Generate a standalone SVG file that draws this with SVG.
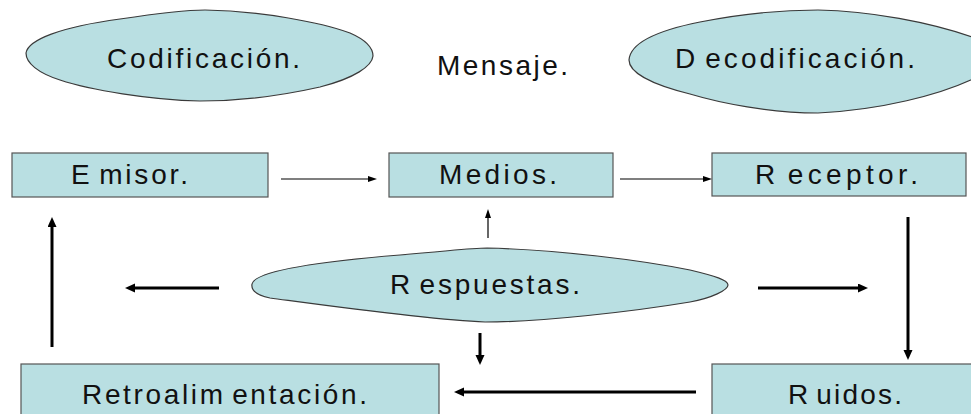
<svg xmlns="http://www.w3.org/2000/svg" width="971" height="414" viewBox="0 0 971 414">
<defs>
<style>
.shape{fill:#B9DFE2;stroke:#3a3a3a;stroke-width:1.2;stroke-linejoin:round}
.box{fill:#B9DFE2;stroke:#555;stroke-width:1.2}
.lbl{font-family:"Liberation Sans",Arial,sans-serif;font-size:28px;fill:#111;word-spacing:-4px}
.thin{stroke:#000;stroke-width:1.2;fill:none}
.thick{stroke:#000;stroke-width:3;fill:none}
</style>
<marker id="hThin" markerUnits="userSpaceOnUse" markerWidth="10" markerHeight="7" refX="1" refY="3" orient="auto">
<path d="M0,0 L9,3 L0,6 z" fill="#000"/>
</marker>
<marker id="hThick" markerUnits="userSpaceOnUse" markerWidth="11" markerHeight="10" refX="1" refY="4.5" orient="auto">
<path d="M0,0 L10,4.5 L0,9 z" fill="#000"/>
</marker>
</defs>
<rect width="971" height="414" fill="#fff"/>

<g id="codificacion">
<path class="shape" d="M26,53 C28,40 60,27 120,19 C160,13 185,10 205,10 C260,11 320,22 350,33 C366,40 373,48 373,56 C372,66 355,78 320,87 C280,96 235,101 200,101 C150,100 90,90 60,80 C38,73 26,63 26,53 Z"/>
<text class="lbl" x="107" y="68" textLength="193" lengthAdjust="spacing">Codificación.</text>
</g>

<g id="mensaje">
<text class="lbl" x="437" y="75" textLength="131" lengthAdjust="spacing">Mensaje.</text>
</g>

<g id="decodificacion">
<path class="shape" d="M629,60 C630,45 650,32 700,22 C740,14 780,10 818,10 C870,11 930,22 975,38 L975,78 C940,95 880,110 818,113 C770,113 720,103 690,94 C650,84 629,72 629,60 Z"/>
<text class="lbl" x="675" y="68" textLength="240" lengthAdjust="spacing">D ecodificación.</text>
</g>

<g id="emisor">
<rect class="box" x="12" y="153" width="256" height="44"/>
<text class="lbl" x="71" y="184" textLength="117" lengthAdjust="spacing">E misor.</text>
</g>

<g id="medios">
<rect class="box" x="389" y="153" width="224" height="44"/>
<text class="lbl" x="439" y="184" textLength="118" lengthAdjust="spacing">Medios.</text>
</g>

<g id="receptor">
<rect class="box" x="712" y="153" width="254" height="43"/>
<text class="lbl" x="755" y="184" textLength="163" lengthAdjust="spacing">R eceptor.</text>
</g>

<g id="respuestas">
<path class="shape" d="M252,284 C254,274 290,264 400,255 C450,251 470,248 487,248 C560,250 640,260 690,270 C715,276 728,280 728,285 C728,290 712,298 690,302 C630,312 540,322 485,322 C430,320 330,306 270,298 C256,295 251,290 252,284 Z"/>
<text class="lbl" x="390" y="294" textLength="190" lengthAdjust="spacing">R espuestas.</text>
</g>

<g id="retroalimentacion">
<rect class="box" x="21" y="364" width="418" height="60"/>
<text class="lbl" x="82" y="404" textLength="285" lengthAdjust="spacing">Retroalim entación.</text>
</g>

<g id="ruidos">
<rect class="box" x="712" y="364" width="260" height="60"/>
<text class="lbl" x="788" y="404" textLength="114" lengthAdjust="spacing">R uidos.</text>
</g>

<g id="connectors">
<path class="thin" d="M281,179 H369" marker-end="url(#hThin)"/>
<path class="thin" d="M620,179 H704" marker-end="url(#hThin)"/>
<path class="thin" d="M488,238 V217" marker-end="url(#hThin)"/>
<path class="thick" d="M908,217 V351" marker-end="url(#hThick)"/>
<path class="thick" d="M758,288 H859" marker-end="url(#hThick)"/>
<path class="thick" d="M219,288 H134" marker-end="url(#hThick)"/>
<path class="thick" d="M52,347 V226" marker-end="url(#hThick)"/>
<path class="thick" d="M480,333 V356" marker-end="url(#hThick)"/>
<path class="thick" d="M696,392 H463" marker-end="url(#hThick)"/>
</g>
</svg>
